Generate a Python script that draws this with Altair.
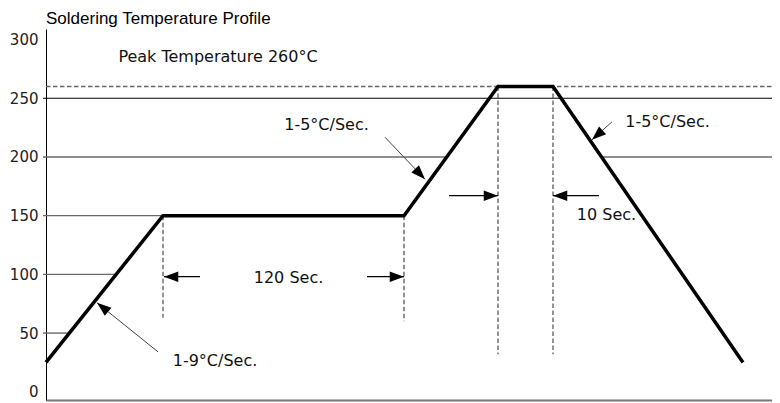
import math
import altair as alt
import pandas as pd

# ---- data (schematic time axis, temperature in °C) ----
profile_t = [0, 117, 358, 452, 507, 697]
profile_temp = [25, 150, 150, 260, 260, 25]

y_ticks = [0, 50, 100, 150, 200, 250, 300]

# solid reference lines (level, start, end)
grid_level = [250, 200, 200, 150, 100, 50]
grid_start = [-3, -3, 555.5, -3, -3, -3]
grid_end = [726, 400.7, 726, 117, 70.2, 23.4]

# dashed guide lines
dash_x = [0, 117, 358, 452, 507]
dash_x2 = [726, 117, 358, 452, 507]
dash_y = [260, 150, 150, 260, 260]
dash_y2 = [260, 63, 60, 32, 32]

# arrows (tail -> tip)
arrow_tail_x = [154, 321, 403, 553, 339, 566, 112]
arrow_tail_y = [98, 98, 167, 167, 216.8, 230, 34]
arrow_tip_x = [118, 358, 452, 507, 379, 546, 51]
arrow_tip_y = [98, 98, 167, 167, 181, 214.6, 75.8]
arrow_kind = ["h", "h", "h", "h", "d", "d", "d"]

# annotation labels
label_text = ["Peak Temperature 260°C", "1-5°C/Sec.", "1-5°C/Sec.",
              "120 Sec.", "10 Sec.", "1-9°C/Sec."]
label_x = [172, 280.5, 621.5, 242.5, 560.5, 169]
label_y = [285, 227.4, 230, 97, 150.8, 26.4]

title_text = "Soldering Temperature Profile"

# ---- chart ----
W, H = 726, 371
X_DOM = [0, 726]
Y_DOM = [-7, 309]
ky = H / (Y_DOM[1] - Y_DOM[0])
FONT = "DejaVu Sans"

xs = alt.Scale(domain=X_DOM, nice=False, zero=False)
ys = alt.Scale(domain=Y_DOM, nice=False, zero=False)

profile = pd.DataFrame({"t": profile_t, "temp": profile_temp, "i": range(len(profile_t))})
grid = pd.DataFrame({"y": grid_level, "x": grid_start, "x2": grid_end})
dash = pd.DataFrame({"x": dash_x, "x2": dash_x2, "y": dash_y, "y2": dash_y2})
angles = []
for tx, ty, hx, hy in zip(arrow_tail_x, arrow_tail_y, arrow_tip_x, arrow_tip_y):
    a = math.degrees(math.atan2(hx - tx, (hy - ty) * ky)) % 360
    angles.append(a)
arrows = pd.DataFrame({"x": arrow_tail_x, "y": arrow_tail_y,
                       "x2": arrow_tip_x, "y2": arrow_tip_y,
                       "angle": angles, "kind": arrow_kind})
labels = pd.DataFrame({"text": label_text, "x": label_x, "y": label_y})

base_axis_y = alt.Axis(values=y_ticks, grid=False, ticks=False, title=None,
                       labelFont=FONT, labelFontSize=15, labelColor="#222",
                       labelPadding=8, domainColor="#000", domainWidth=1)
base_axis_x = alt.Axis(labels=False, ticks=False, grid=False, title=None,
                       domainColor="#777", domainWidth=2)

grid_gray = alt.Chart(grid).transform_filter("datum.y != 250").mark_rule(
    color="#6a6a6a", strokeWidth=1.4).encode(
    x=alt.X("x:Q", scale=xs, axis=base_axis_x),
    x2="x2:Q",
    y=alt.Y("y:Q", scale=ys, axis=base_axis_y),
)
grid_black = alt.Chart(grid).transform_filter("datum.y == 250").mark_rule(
    color="#000", strokeWidth=1.2).encode(
    x=alt.X("x:Q", scale=xs), x2="x2:Q", y=alt.Y("y:Q", scale=ys),
)

dash_layer = alt.Chart(dash).mark_rule(color="#666", strokeWidth=1.4,
                                       strokeDash=[4.5, 2.5]).encode(
    x=alt.X("x:Q", scale=xs), x2="x2:Q",
    y=alt.Y("y:Q", scale=ys), y2="y2:Q",
)

profile_layer = alt.Chart(profile).mark_line(color="#000", strokeWidth=3.5,
                                             strokeJoin="miter").encode(
    x=alt.X("t:Q", scale=xs),
    y=alt.Y("temp:Q", scale=ys),
    order="i:O",
)

shaft_h = alt.Chart(arrows).transform_filter("datum.kind == 'h'").mark_rule(
    color="#000", strokeWidth=1.2).encode(
    x=alt.X("x:Q", scale=xs), x2="x2:Q",
    y=alt.Y("y:Q", scale=ys), y2="y2:Q",
)
shaft_d = alt.Chart(arrows).transform_filter("datum.kind == 'd'").mark_rule(
    color="#444", strokeWidth=1).encode(
    x=alt.X("x:Q", scale=xs), x2="x2:Q",
    y=alt.Y("y:Q", scale=ys), y2="y2:Q",
)

head_layer = alt.Chart(arrows).mark_point(
    shape="M0,0L-0.7,1.9L0.7,1.9Z", filled=True, color="#000",
    opacity=1, size=225, strokeWidth=0,
).encode(
    x=alt.X("x2:Q", scale=xs),
    y=alt.Y("y2:Q", scale=ys),
    angle=alt.Angle("angle:Q", scale=None),
)

label_layer = alt.Chart(labels).mark_text(font=FONT, fontSize=16, color="#111",
                                          align="center", baseline="middle").encode(
    x=alt.X("x:Q", scale=xs),
    y=alt.Y("y:Q", scale=ys),
    text="text:N",
)

title_layer = alt.Chart(pd.DataFrame({"text": [title_text]})).mark_text(
    font="Liberation Sans", fontSize=17, color="#000", align="left",
    baseline="alphabetic"
).encode(
    x=alt.value(0), y=alt.value(-5), text="text:N"
)

chart = alt.layer(
    grid_gray, grid_black, dash_layer, profile_layer, shaft_h, shaft_d,
    head_layer, label_layer, title_layer
).properties(
    width=W, height=H,
    autosize=alt.AutoSizeParams(type="none"),
    padding={"left": 38, "top": 21, "right": 0, "bottom": 2},
).configure_view(stroke=None)

chart.save("out.html", embed_options={"renderer": "svg", "actions": False})
